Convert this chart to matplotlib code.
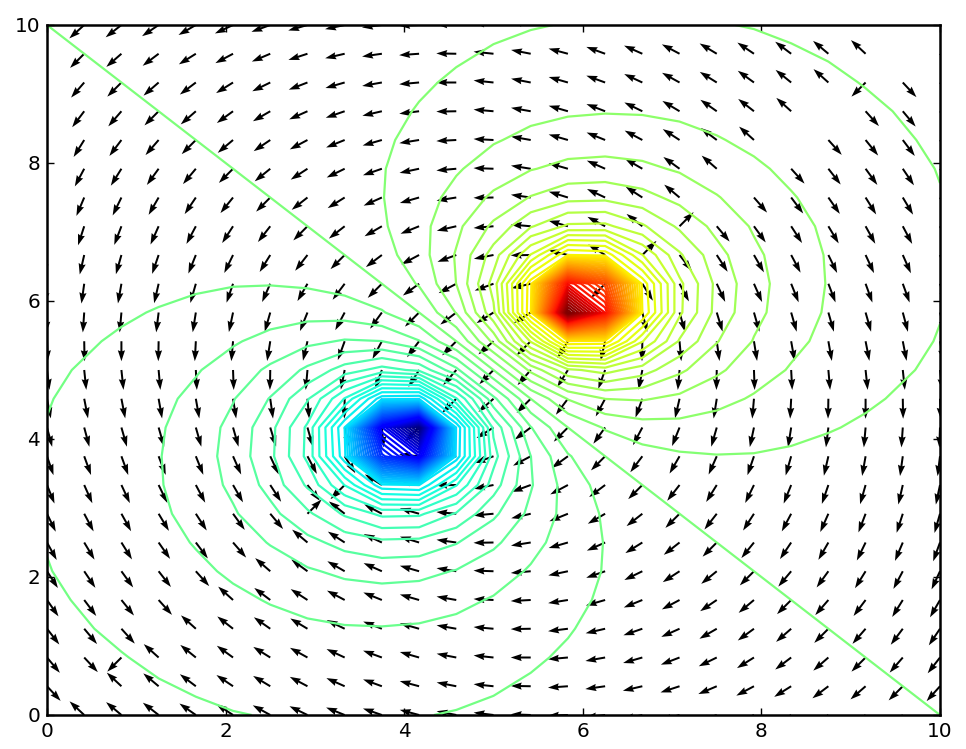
import matplotlib
matplotlib.use('Agg')
import matplotlib.pyplot as plt
import numpy as np

nan = float('nan')

# grid positions of the contour cells and of the arrows
grid_x = [0, 0.4167, 0.8333, 1.25, 1.6667, 2.0833, 2.5, 2.9167, 3.3333, 3.75, 4.1667, 4.5833, 5,
          5.4167, 5.8333, 6.25, 6.6667, 7.0833, 7.5, 7.9167, 8.3333, 8.75, 9.1667, 9.5833, 10]
grid_y = grid_x

# potential, one row per grid_y
potential = [
    [-.059,-.064,-.070,-.075,-.081,-.086,-.090,-.093,-.094,-.093,-.090,-.085,-.078,-.070,-.061,-.051,-.042,-.034,-.026,-.020,-.014,-.010,-.006,-.003,0],
    [-.064,-.071,-.078,-.085,-.092,-.100,-.106,-.110,-.113,-.112,-.109,-.102,-.093,-.081,-.069,-.057,-.046,-.036,-.027,-.019,-.013,-.007,-.003,0,.003],
    [-.070,-.078,-.086,-.096,-.106,-.116,-.125,-.133,-.137,-.137,-.133,-.124,-.111,-.096,-.080,-.064,-.050,-.037,-.026,-.017,-.010,-.004,0,.003,.006],
    [-.075,-.085,-.096,-.108,-.122,-.136,-.150,-.162,-.170,-.172,-.167,-.154,-.136,-.114,-.092,-.071,-.053,-.037,-.024,-.014,-.006,0,.004,.007,.010],
    [-.081,-.092,-.106,-.122,-.140,-.160,-.181,-.201,-.216,-.221,-.215,-.197,-.169,-.138,-.106,-.078,-.054,-.035,-.020,-.008,0,.006,.010,.013,.014],
    [-.086,-.100,-.116,-.136,-.160,-.188,-.221,-.254,-.282,-.296,-.289,-.259,-.215,-.167,-.122,-.084,-.053,-.029,-.012,0,.008,.014,.017,.019,.020],
    [-.090,-.106,-.125,-.150,-.181,-.221,-.269,-.326,-.382,-.417,-.410,-.357,-.280,-.203,-.137,-.085,-.046,-.019,0,.012,.020,.024,.026,.027,.026],
    [-.093,-.110,-.133,-.162,-.201,-.254,-.326,-.423,-.541,-.638,-.633,-.518,-.370,-.242,-.146,-.077,-.030,0,.019,.029,.035,.037,.037,.036,.034],
    [-.094,-.113,-.137,-.170,-.216,-.282,-.382,-.541,-.795,-1.118,-1.146,-.798,-.481,-.272,-.138,-.053,0,.030,.046,.053,.054,.053,.050,.046,.042],
    [-.093,-.112,-.137,-.172,-.221,-.296,-.417,-.638,-1.118,-2.514,-2.984,-1.200,-.564,-.265,-.097,0,.053,.077,.085,.084,.078,.071,.064,.057,.051],
    [-.090,-.109,-.133,-.167,-.215,-.289,-.410,-.633,-1.146,-2.984,-3.857,-1.217,-.508,-.181,0,.097,.138,.146,.137,.122,.106,.092,.080,.069,.061],
    [-.085,-.102,-.124,-.154,-.197,-.259,-.357,-.518,-.798,-1.200,-1.217,-.713,-.287,0,.181,.265,.272,.242,.203,.167,.138,.114,.096,.081,.070],
    [-.078,-.093,-.111,-.136,-.169,-.215,-.280,-.370,-.481,-.564,-.508,-.287,0,.287,.508,.564,.481,.370,.280,.215,.169,.136,.111,.093,.078],
    [-.070,-.081,-.096,-.114,-.138,-.167,-.203,-.242,-.272,-.265,-.181,0,.287,.713,1.217,1.200,.798,.518,.357,.259,.197,.154,.124,.102,.085],
    [-.061,-.069,-.080,-.092,-.106,-.122,-.137,-.146,-.138,-.097,0,.181,.508,1.217,3.857,2.984,1.146,.633,.410,.289,.215,.167,.133,.109,.090],
    [-.051,-.057,-.064,-.071,-.078,-.084,-.085,-.077,-.053,0,.097,.265,.564,1.200,2.984,2.514,1.118,.638,.417,.296,.221,.172,.137,.112,.093],
    [-.042,-.046,-.050,-.053,-.054,-.053,-.046,-.030,0,.053,.138,.272,.481,.798,1.146,1.118,.795,.541,.382,.282,.216,.170,.137,.113,.094],
    [-.034,-.036,-.037,-.037,-.035,-.029,-.019,0,.030,.077,.146,.242,.370,.518,.633,.638,.541,.423,.326,.254,.201,.162,.133,.110,.093],
    [-.026,-.027,-.026,-.024,-.020,-.012,0,.019,.046,.085,.137,.203,.280,.357,.410,.417,.382,.326,.269,.221,.181,.150,.125,.106,.090],
    [-.020,-.019,-.017,-.014,-.008,0,.012,.029,.053,.084,.122,.167,.215,.259,.289,.296,.282,.254,.221,.188,.160,.136,.116,.100,.086],
    [-.014,-.013,-.010,-.006,0,.008,.020,.035,.054,.078,.106,.138,.169,.197,.215,.221,.216,.201,.181,.160,.140,.122,.106,.092,.081],
    [-.010,-.007,-.004,0,.006,.014,.024,.037,.053,.071,.092,.114,.136,.154,.167,.172,.170,.162,.150,.136,.122,.108,.096,.085,.075],
    [-.006,-.003,0,.004,.010,.017,.026,.037,.050,.064,.080,.096,.111,.124,.133,.137,.137,.133,.125,.116,.106,.096,.086,.078,.070],
    [-.003,0,.003,.007,.013,.019,.027,.036,.046,.057,.069,.081,.093,.102,.109,.112,.113,.110,.106,.100,.092,.085,.078,.071,.064],
    [0,.003,.006,.010,.014,.020,.026,.034,.042,.051,.061,.070,.078,.085,.090,.093,.094,.093,.090,.086,.081,.075,.070,.064,.059],
]

# arrow direction in degrees, one row per grid_y, nan where no arrow shows
arrow_deg = [
    [nan,137,140,142,145,147,151,154,158,161,165,169,173,178,182,187,192,196,200,205,210,214,218,222,225],
    [313,nan,137,140,143,146,149,152,156,160,165,169,174,179,184,188,193,198,203,208,212,217,221,225,228],
    [310,313,225,138,141,144,148,151,155,160,164,169,174,180,185,190,196,201,206,212,217,221,225,229,232],
    [308,310,312,nan,138,142,145,149,154,159,164,170,175,181,187,193,199,204,210,216,221,225,229,233,236],
    [305,307,309,312,nan,138,143,147,152,158,164,170,177,183,189,196,202,208,214,220,225,229,233,238,240],
    [303,304,306,308,312,nan,139,144,150,156,164,171,178,185,192,199,206,213,219,225,230,234,238,242,245],
    [299,301,302,305,307,311,nan,140,147,155,163,172,181,189,196,204,212,218,225,231,236,240,244,247,250],
    [296,298,299,301,303,306,310,45,142,152,164,175,185,193,202,210,218,225,232,237,242,246,249,252,254],
    [292,294,295,296,298,300,303,308,225,148,166,181,191,200,208,217,225,232,238,244,248,251,254,257,258],
    [289,290,290,291,292,294,295,298,302,nan,175,193,200,208,216,225,233,240,246,251,254,257,260,262,263],
    [285,285,286,286,286,286,287,286,284,275,225,212,212,217,225,234,242,248,254,258,261,263,265,266,268],
    [281,281,281,280,280,279,278,275,269,257,238,225,221,225,233,242,250,257,261,265,267,269,270,271,272],
    [277,276,276,275,273,272,269,265,259,250,238,229,225,229,238,250,259,265,269,272,273,275,276,276,277],
    [272,271,270,269,267,265,261,257,250,242,233,225,221,225,238,257,269,275,278,279,280,280,281,281,281],
    [268,266,265,263,261,258,254,248,242,234,225,217,212,212,225,275,284,286,287,286,286,286,286,285,285],
    [263,262,260,257,254,251,246,240,233,225,216,208,200,193,175,225,302,298,295,294,292,291,290,290,289],
    [258,257,254,251,248,244,238,232,225,217,208,200,191,181,166,148,45,308,303,300,298,296,295,294,292],
    [254,252,249,246,242,237,232,225,218,210,202,193,185,175,164,152,142,45,310,306,303,301,299,298,296],
    [250,247,244,240,236,231,225,218,212,204,196,189,181,172,163,155,147,140,nan,311,307,305,302,301,299],
    [245,242,238,234,230,225,219,213,206,199,192,185,178,171,164,156,150,144,139,nan,312,308,306,304,303],
    [240,238,233,229,225,220,214,208,202,196,189,183,177,170,164,158,152,147,143,138,nan,312,309,307,305],
    [236,233,229,225,221,216,210,204,199,193,187,181,175,170,164,159,154,149,145,142,138,nan,312,310,308],
    [232,229,225,221,217,212,206,201,196,190,185,180,174,169,164,160,155,151,148,144,141,138,225,313,310],
    [228,225,221,217,212,208,203,198,193,188,184,179,174,169,165,160,156,152,149,146,143,140,137,nan,313],
    [225,222,218,214,210,205,200,196,192,187,182,178,173,169,165,161,158,154,151,147,145,142,140,137,nan],
]

level_step = 0.088
n_levels = 43
ticks = [0, 2, 4, 6, 8, 10]

plt.rcParams['font.size'] = 14.4

fig = plt.figure(figsize=(9.66, 7.49), dpi=100)
ax = fig.add_axes([47 / 966, 1 - 715 / 749, (940 - 47) / 966, (715 - 25) / 749])

X, Y = np.meshgrid(grid_x, grid_y)
angle = np.radians(np.array(arrow_deg, dtype=float))

ax.quiver(X, Y, np.cos(angle), np.sin(angle), angles='uv', pivot='tail',
          units='dots', scale_units='dots', scale=1 / 20, width=2,
          headwidth=3.6, headlength=5.5, headaxislength=5, color='k')

levels = level_step * np.arange(-n_levels, n_levels + 1)
ax.contour(X, Y, np.array(potential), levels=levels, cmap='jet', linewidths=1.6, linestyles='solid')

ax.set_xlim(0, 10)
ax.set_ylim(0, 10)
ax.set_xticks(ticks)
ax.set_yticks(ticks)
ax.tick_params(direction='in', top=True, right=True, length=5, width=1, pad=5)
for spine in ax.spines.values():
    spine.set_linewidth(1.8)

fig.savefig('out.png', dpi=100)
